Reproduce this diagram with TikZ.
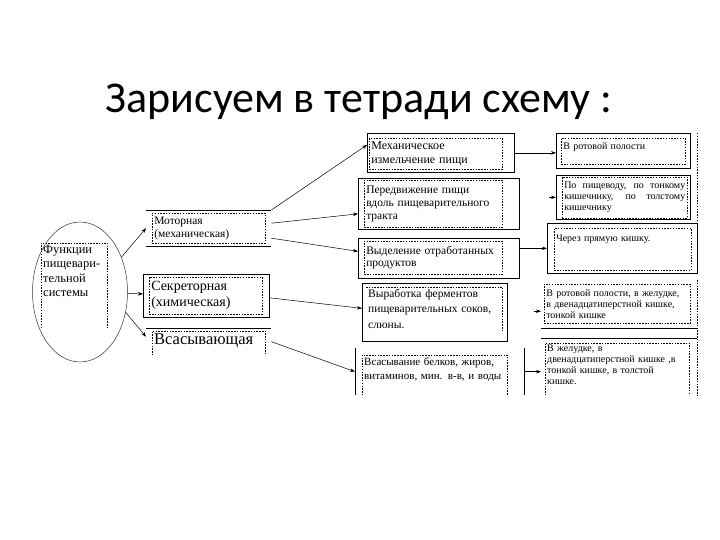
\documentclass[tikz,border=0pt]{standalone}
\usepackage{fontspec}
\setmainfont{Liberation Serif}
\newfontfamily\titlefont{Carlito}
\usetikzlibrary{arrows.meta,shapes.geometric}

\begin{document}
\begin{tikzpicture}[x=1pt,y=-1pt,font=\fontsize{12}{13.5}\selectfont]
    \tikzstyle{fr}=[anchor=north west,inner sep=0pt]
    \tikzstyle{frb}=[fr,draw,line width=0.7pt]
    \tikzstyle{sl}=[line width=0.7pt]
    \tikzstyle{dl}=[line width=0.5pt,dash pattern=on 1.5pt off 1.3pt]
    \tikzstyle{db}=[anchor=north west,draw,dl,inner sep=2pt,align=left]
    \tikzstyle{tx}=[anchor=north west,inner sep=2pt,align=left]
    \tikzstyle{lv4}=[font=\fontsize{10}{11}\selectfont]
    \tikzstyle{arr}=[-{Stealth[length=5pt,width=3.5pt]},line width=0.5pt]
    \useasboundingbox (0,0) rectangle (720,540);
    \node[font=\titlefont\fontsize{44}{50}\selectfont,anchor=base] (title) at (359,113) {Зарисуем в тетради схему :};
    % functions
    \node[draw=black!80,ellipse,line width=0.5pt,minimum width=95pt,minimum height=140pt] (funell) at (80,292) {};
    \node[tx,text width=62pt,font=\fontsize{12.5}{14.5}\selectfont] (fun) at (41,243) {Функции\\пищевари-\\тельной\\системы};
    \coordinate (funbot) at (41,328);
    \draw[dl] (fun.west |- funbot) |- (fun.north east) -- (fun.east |- funbot);
    % kinds
    \node[fr,minimum width=125pt,minimum height=36pt] (motorf) at (146,210) {};
    \draw[sl] (motorf.north west) -- (motorf.north east) (motorf.south west) -- (motorf.south east);
    \node[db,text width=109pt,minimum height=30pt,font=\fontsize{11.5}{13.5}\selectfont] (motor) at (152,213) {Моторная\\(механическая)};
    \node[frb,minimum width=126pt,minimum height=43pt] (secrf) at (143,274) {};
    \node[db,text width=109pt,minimum height=37pt,font=\fontsize{14}{16}\selectfont] (secr) at (149,277) {Секреторная\\(химическая)};
    \node[fr,minimum width=125pt,minimum height=27pt] (absorbf) at (146,328) {};
    \draw[sl] (absorbf.north west) -- (absorbf.north east);
    \node[tx,text width=109pt,font=\fontsize{16.5}{18}\selectfont] (absorb) at (152,331) {Всасывающая};
    \draw[dl] (absorb.west |- absorbf.south) |- (absorb.north east) -- (absorb.east |- absorbf.south);
    % what is done
    \node[frb,minimum width=147pt,minimum height=39pt] (mechf) at (367,133) {};
    \node[db,text width=129pt,minimum height=31pt] (mech) at (369,138) {Механическое\\измельчение пищи};
    \node[frb,minimum width=161pt,minimum height=51pt] (movef) at (358,178) {};
    \node[db,text width=134pt,minimum height=47pt,font=\fontsize{11.5}{13}\selectfont] (move) at (364,180) {Передвижение пищи\\вдоль пищеварительного\\тракта};
    \node[frb,minimum width=161pt,minimum height=40pt] (exf) at (358,238) {};
    \node[db,text width=134pt,minimum height=33pt,font=\fontsize{11.5}{12.5}\selectfont] (ex) at (364,241) {Выделение отработанных\\продуктов};
    \node[frb,minimum width=145pt,minimum height=58pt] (enzf) at (362,283) {};
    \node[tx,text width=132pt,font=\fontsize{11.5}{15.5}\selectfont] (enz) at (366,287) {Выработка ферментов\\пищеварительных соков,\\слюны.};
    \draw[dl] (enz.north west) -- (enz.north east) -- (enz.south east);
    \node[fr,minimum width=169pt,minimum height=47pt] (suckf) at (355,348) {};
    \draw[sl] (suckf.north west) -- (suckf.south west) (suckf.north east) -- (suckf.south east);
    \node[tx,text width=141pt,font=\fontsize{11}{14}\selectfont] (suck) at (362,355) {\mbox{Всасывание белков, жиров,}\\\mbox{витаминов, мин. в-в, и воды}};
    \draw[dl] (suck.west |- suckf.south) |- (suck.north east) -- (suck.east |- suckf.south);
    % where
    \node[frb,minimum width=134pt,minimum height=35pt] (mouthf) at (556,133) {};
    \node[db,lv4,text width=120pt,minimum height=26pt] (mouth) at (561,138) {В ротовой полости\\\mbox{}};
    \node[frb,minimum width=134pt,minimum height=44pt] (gutf) at (556,175) {};
    \node[db,lv4,text width=121pt,minimum height=41pt,align=justify] (gut) at (562,177) {По пищеводу, по тонкому кишечнику, по толстому кишечнику};
    \node[frb,minimum width=150pt,minimum height=50pt] (rectumf) at (547,223) {};
    \node[db,lv4,text width=133pt,minimum height=42pt] (rectum) at (554,228) {Через прямую кишку.\\\mbox{}\\\mbox{}};
    \node[fr,minimum width=156pt,minimum height=48pt] (mouth2f) at (541,280) {};
    \draw[sl] (mouth2f.south west) -- (mouth2f.south east);
    \node[db,lv4,text width=142pt,minimum height=39pt] (mouth2) at (544,284) {В ротовой полости, в желудке,\\в двенадцатиперстной кишке,\\тонкой кишке};
    \node[fr,minimum width=156pt,minimum height=57pt] (stomf) at (541,338) {};
    \draw[sl] (stomf.north west) -- (stomf.north east);
    \node[tx,lv4,text width=140pt] (stom) at (545,343) {В желудке, в\\двенадцатиперстной кишке ,в\\тонкой кишке, в толстой\\кишке.};
    \draw[dl] (stom.west |- stomf.south) |- (stom.north east) -- (stom.east |- stomf.south);
    \draw[dl] (rectumf.east |- mouthf.north) -- (rectumf.north east);
    \draw[dl] (mouth2f.north east) -- (stomf.south east);
    % arrows
    \draw[arr] (funell.40) -- (motorf.west);
    \draw[arr] (funell) -- (secrf);
    \draw[arr] (funell.-24) -- ([yshift=5pt]absorbf.west);
    \draw[arr] (motorf.north east) -- ([yshift=8pt]mechf.west);
    \draw[arr] ([yshift=5pt]motorf.east) -- ([yshift=-10pt]movef.west);
    \draw[arr] ([yshift=-10pt]motorf.east) -- ([yshift=7pt]exf.west);
    \draw[arr] ([yshift=-2pt]secrf.east) -- ([yshift=4pt]enzf.west);
    \draw[arr] (absorbf.east) -- (suckf.west);
    \draw[arr] (mechf.east) -- (mechf.east -| mouthf.west);
    \coordinate (gutin) at ([xshift=-7pt]gutf.west);
    \draw[arr] (gutin) -- (gutf.west);
    \draw[arr] (exf.east |- rectumf.west) -- (rectumf.west);
    \coordinate (mouth2in) at ([xshift=-7pt,yshift=-7pt]mouth2f.west);
    \draw[arr] (mouth2in) -- ([yshift=-7pt]mouth2f.west);
    \draw[arr] (suckf.east) -- (suckf.east -| stomf.west);
\end{tikzpicture}
\end{document}
